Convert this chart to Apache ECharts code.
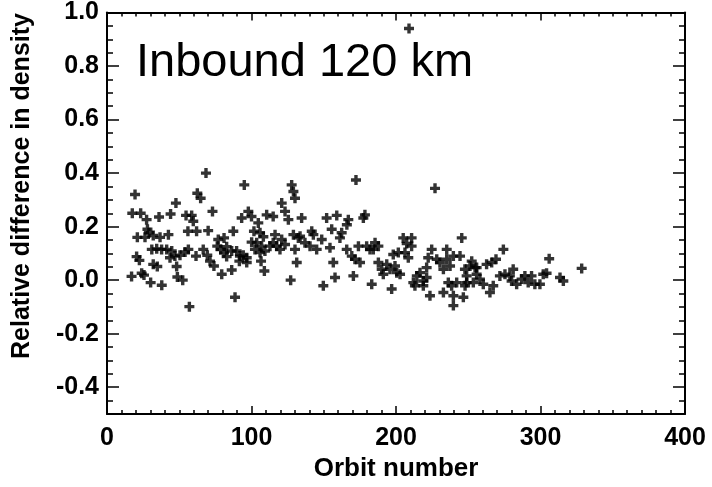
<!DOCTYPE html>
<html>
<head>
<meta charset="utf-8">
<script src="https://cdn.jsdelivr.net/npm/echarts@6/dist/echarts.min.js"></script>
<style>
html,body{margin:0;padding:0;background:#fff;}
#chart{width:712px;height:487px;}
</style>
</head>
<body>
<div id="chart"></div>
<script>
// Orbit numbers (x) and relative density differences (y)
var orbit = [
19.4,17.5,23.3,27.4,21,26.3,28,29,32,36.7,42.5,36,44,47.7,54.7,58.6,59.7,56,62,62.5,64.8,68.5,73,70,
20.5,22.4,17,24,25.6,30.2,37.9,31,34.4,37.8,41.3,44.8,32,34.8,43.6,47,50.5,54,56.3,48.2,48.7,52.4,57,
61.6,66.6,69.4,71.3,74,79.4,77,81,76.3,78.7,82.8,81,82.8,86.3,87.4,86.3,88.6,89.7,92,94.3,96.7,91.6,96.7,
95,93.2,97.8,100,104.7,101.7,105.9,108.2,100.1,103.6,107,102.4,105.9,109.3,106.6,108.9,
110.5,115,116.3,120.9,115,112.8,117.4,119.7,123.2,120.9,123.2,125.5,127.8,129,130.1,127.1,131.3,129,132.4,
134.7,172.3,227,152,159,167,166,178.5,177.4,
155.5,162.4,161.2,141.7,142.8,133.6,137,140.5,145.1,148.6,154.3,130.1,149.7,156.6,157.8,
165.9,169.4,171.6,175.1,174,179.7,182,185.5,184.3,187.8,170.5,183.2,
187.8,190.1,191.2,193.6,195.8,199.3,200.5,202.8,198.1,201.6,206.2,208.5,210.8,197,205,210.8,207.4,
212,214.4,216.6,218.9,221.2,213.1,218.9,223.5,221.2,
224.7,222.3,228.2,230.4,232.8,235.1,235.1,237.4,239.7,244.3,245.5,
232.8,239.7,239.7,246.6,242,248.9,247.7,252.4,254.7,236.2,238.5,
274.3,306,328.5,251.2,255.8,262.7,266.2,269.2,
248.9,255.8,258.1,253.5,247.8,260.4,265,267.3,271.9,275.4,278.8,281.1,280,283.5,286.9,289.2,293.8,291.5,296.1,299.6,301.9,304.2,313.5,315.8,
209
];
var relDiff = [
0.32,0.25,0.25,0.226,0.16,0.16,0.19,0.177,0.167,0.16,0.17,0.236,0.247,0.288,0.242,0.242,0.22,0.183,0.183,0.325,0.306,0.40,0.257,0.185,
0.088,0.074,0.014,0.026,0.019,-0.009,-0.019,0.115,0.117,0.115,0.115,0.109,0.059,0.051,0.084,0.09,0.093,0.105,0.115,0.051,0.012,0.0,-0.099,
0.09,0.115,0.093,0.071,0.053,0.022,0.152,0.158,0.127,0.115,0.125,0.102,0.088,0.109,0.183,0.038,-0.064,0.109,0.09,0.093,0.084,0.071,0.066,
0.356,0.232,0.257,0.238,0.214,0.183,0.177,0.162,0.142,0.14,0.127,0.115,0.103,0.109,0.071,0.034,
0.244,0.238,0.17,0.152,0.14,0.127,0.127,0.115,0.133,0.288,0.257,0.226,0.356,0.331,0.306,0.0,0.066,0.17,0.158,
0.232,0.374,0.343,0.232,0.242,0.226,0.207,0.244,0.232,
0.19,0.177,0.158,0.183,0.17,0.164,0.14,0.127,0.115,0.152,0.121,0.115,-0.021,0.066,0.01,
0.115,0.09,0.078,0.066,0.127,0.127,0.115,0.14,0.115,0.127,0.016,-0.015,
0.066,0.041,0.022,0.059,0.041,0.053,0.028,0.022,0.096,0.103,0.103,0.084,0.127,-0.033,0.158,0.158,0.137,
-0.009,0.016,0.028,-0.003,0.01,-0.021,-0.021,-0.058,0.047,
0.115,0.084,0.078,0.066,0.041,0.115,0.078,0.053,0.09,0.09,0.158,
-0.046,-0.058,-0.095,-0.064,-0.009,-0.009,0.041,0.071,0.047,-0.009,-0.021,
0.115,0.08,0.044,0.053,0.047,0.059,0.066,0.078,
0.016,0.022,0.004,-0.009,-0.021,-0.015,-0.046,-0.021,0.016,0.022,0.016,0.041,-0.003,-0.015,0.004,0.016,0.016,-0.009,-0.015,-0.015,0.022,0.026,0.01,-0.003,
0.94
];
var xTicks = [0,100,200,300,400];
var yTicks = [-0.4,-0.2,0.0,0.2,0.4,0.6,0.8,1.0];
var titleText = 'Inbound 120 km';
var xName = 'Orbit number';
var yName = 'Relative difference in density';

var points = orbit.map(function(o,i){ return [o, relDiff[i]]; });
var plus = 'path://M3.3,0 H6.7 V3.3 H10 V6.7 H6.7 V10 H3.3 V6.7 H0 V3.3 H3.3 Z';
var font = '"Liberation Sans", Arial, Helvetica, sans-serif';
var lineStyle = {color:'#000', width:2};
var tickStyle = {color:'#000', width:1.5};
var tickText = {fontFamily:font, fontWeight:'bold', fontSize:25, color:'#000'};

function xAx(pos, showLabel){
  return {
    type:'value', position:pos, min:0, max:400, interval:100,
    name: showLabel ? xName : '', nameLocation:'middle', nameGap:42,
    nameTextStyle:{fontFamily:font, fontWeight:'bold', fontSize:26, color:'#000'},
    axisLine:{show:true, onZero:false, lineStyle:lineStyle},
    axisTick:{show:true, inside:true, length:8, lineStyle:tickStyle},
    minorTick:{show:true, splitNumber:10, length:4, lineStyle:tickStyle},
    axisLabel:Object.assign({show:showLabel, margin:12,
      formatter:function(v){ return xTicks.indexOf(v)>=0 ? String(v) : ''; }}, tickText),
    splitLine:{show:false}
  };
}
// major y axis: labels + long ticks at yTicks
function yMajor(pos, showLabel){
  return {
    type:'value', position:pos, min:-0.5, max:1.0, interval:0.1,
    axisLine:{show:true, onZero:false, lineStyle:lineStyle},
    axisTick:{show:true, inside:true, length:12, lineStyle:tickStyle, customValues:yTicks},
    axisLabel:Object.assign({show:showLabel, margin:8, customValues:yTicks,
      formatter:function(v){ return (Math.round(v*10)/10).toFixed(1); }}, tickText),
    splitLine:{show:false}
  };
}
// minor y axis: short ticks every 0.05
function yMinor(pos){
  return {
    type:'value', position:pos, min:-0.5, max:1.0, interval:0.05,
    axisLine:{show:false, onZero:false},
    axisTick:{show:true, inside:true, length:6, lineStyle:tickStyle},
    axisLabel:{show:false},
    splitLine:{show:false}
  };
}

var chart = echarts.init(document.getElementById('chart'), null, {renderer:'canvas'});
chart.setOption({
  animation:false,
  backgroundColor:'#fff',
  grid:{left:107, right:27, top:11, bottom:69, containLabel:false},
  xAxis:[xAx('bottom', true), xAx('top', false)],
  yAxis:[yMajor('left', true), yMajor('right', false), yMinor('left'), yMinor('right')],
  graphic:[
    {type:'text', left:136, top:40, style:{text:titleText, font:'47px ' + font, fill:'#000'}},
    {type:'text', x:22, y:186, rotation:Math.PI/2,
     style:{text:yName, font:'bold 25px ' + font, fill:'#000', align:'center', verticalAlign:'middle'}}
  ],
  series:[{
    type:'scatter', xAxisIndex:0, yAxisIndex:0, data:points,
    symbol:plus, symbolSize:10, itemStyle:{color:'#000'}
  }]
});
</script>
</body>
</html>
